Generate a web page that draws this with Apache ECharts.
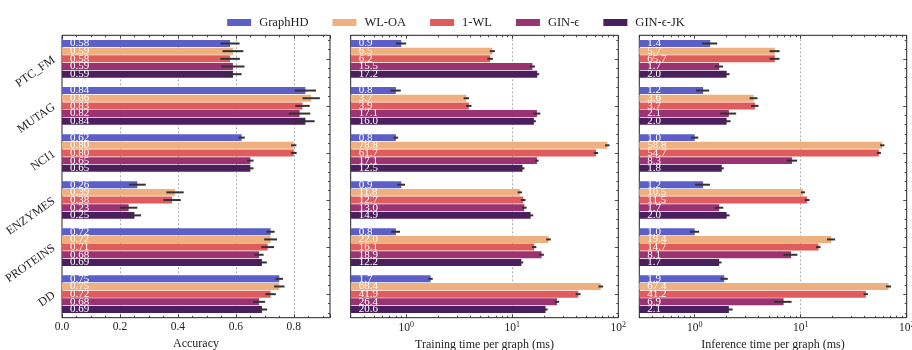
<!DOCTYPE html>
<html>
<head>
<meta charset="utf-8">
<script src="https://cdn.jsdelivr.net/npm/echarts@6/dist/echarts.min.js"></script>
<style>
  html, body { margin: 0; padding: 0; background: #fff; }
  #chart { width: 912px; height: 350px; }
</style>
</head>
<body>
<div id="chart"></div>
<script>
// datasets top -> bottom, methods in legend order
const datasets = ["PTC_FM", "MUTAG", "NCI1", "ENZYMES", "PROTEINS", "DD"];
const methods = ["GraphHD", "WL-OA", "1-WL", "GIN-ϵ", "GIN-ϵ-JK"];
const colors = ["#5b5fc7", "#efb07f", "#e05b5c", "#9b3271", "#4b1e5e"];

// accuracy (one row per method)
const accuracy = [
  [0.58, 0.84, 0.62, 0.26, 0.72, 0.75],
  [0.59, 0.86, 0.80, 0.39, 0.72, 0.75],
  [0.58, 0.83, 0.80, 0.38, 0.71, 0.72],
  [0.59, 0.82, 0.65, 0.23, 0.68, 0.68],
  [0.59, 0.84, 0.65, 0.25, 0.69, 0.69],
];
const accuracyErr = [
  [0.033, 0.037, 0.011, 0.029, 0.014, 0.013],
  [0.036, 0.030, 0.009, 0.030, 0.022, 0.018],
  [0.034, 0.025, 0.010, 0.030, 0.022, 0.018],
  [0.040, 0.037, 0.011, 0.030, 0.016, 0.021],
  [0.030, 0.032, 0.011, 0.023, 0.017, 0.018],
];

// training time per graph (ms)
const trainTime = [
  [0.9, 0.8, 0.8, 0.9, 0.8, 1.7],
  [6.5, 3.7, 78.8, 11.8, 22.0, 68.4],
  [6.2, 3.9, 61.7, 12.7, 16.1, 41.9],
  [15.5, 17.1, 17.1, 13.0, 18.9, 26.4],
  [17.2, 16.0, 12.5, 14.9, 12.2, 20.6],
];
const trainErr = [
  [0.10, 0.09, 0.04, 0.075, 0.076, 0.08],
  [0.35, 0.22, 3.8, 0.56, 1.1, 3.5],
  [0.37, 0.23, 2.8, 0.65, 0.77, 2.2],
  [0.87, 1.3, 0.63, 0.67, 1.0, 1.3],
  [0.76, 0.7, 0.55, 0.87, 0.5, 0.97],
];

// inference time per graph (ms)
const inferTime = [
  [1.4, 1.2, 1.0, 1.2, 1.0, 1.9],
  [5.7, 3.6, 58.8, 10.5, 19.4, 67.4],
  [5.7, 3.7, 54.7, 11.5, 14.7, 41.2],
  [1.7, 2.1, 8.3, 1.7, 8.1, 6.9],
  [2.0, 2.0, 1.8, 2.0, 1.7, 2.1],
];
const inferErr = [
  [0.23, 0.17, 0.08, 0.19, 0.10, 0.15],
  [0.62, 0.31, 2.8, 0.45, 1.7, 3.7],
  [0.6, 0.3, 2.4, 0.6, 0.7, 1.9],
  [0.15, 0.36, 0.95, 0.16, 1.2, 1.3],
  [0.13, 0.18, 0.08, 0.13, 0.09, 0.18],
];
// label printed in the original differs from bar length (1-WL, PTC_FM)
const inferLabelFix = { "2,0": "65.7" };

const logTicks = [1, 10, 100];

const FONT = "'Liberation Serif', 'DejaVu Serif', serif";
const INK = "#222";
const LOG_MIN = 0.3;
const lt = (v) => Math.log10(v / LOG_MIN);
const LOG_MAX = lt(100);

const chart = echarts.init(document.getElementById("chart"));

const panels = [
  { left: 62, width: 268, log: false, values: accuracy, errs: accuracyErr, name: "Accuracy", digits: 2 },
  { left: 350.7, width: 267.6, log: true, values: trainTime, errs: trainErr, name: "Training time per graph (ms)", digits: 1 },
  { left: 639.3, width: 267.4, log: true, values: inferTime, errs: inferErr, name: "Inference time per graph (ms)", digits: 1, fix: inferLabelFix },
];

const grids = [], xAxes = [], yAxes = [], series = [];
const TOP = 35.3, HEIGHT = 282.4;
const CAT_GAP = 0.2, BAR_GAP = 0.1;

// minor tick positions (log panels / category side)
const logMinor = [];
[0.1, 1, 10].forEach((d) => {
  for (let k = 2; k <= 9; k++) if (k * d > LOG_MIN) logMinor.push(lt(k * d));
});
const catMinor = [];
for (let c = -0.4; c < 5.5; c += 0.2) {
  const r = Math.round(c * 10) / 10;
  if (Math.abs(r - Math.round(r)) > 0.01) catMinor.push(r);
}

const noLine = { show: false, onZero: false };

function tickStyle(len) {
  return { show: true, inside: true, length: len, lineStyle: { color: INK, width: 0.8 } };
}

function errRender(params, api) {
  const lo = api.value(0), hi = api.value(1), cat = api.value(2), m = api.value(3);
  const band = api.size([0, 1])[1];
  const groupW = band * (1 - CAT_GAP);
  const barW = groupW / (methods.length + (methods.length - 1) * BAR_GAP);
  const off = -groupW / 2 + m * barW * (1 + BAR_GAP) + barW / 2;
  const p1 = api.coord([lo, cat]);
  const p2 = api.coord([hi, cat]);
  return {
    type: "line",
    shape: { x1: p1[0], y1: p1[1] + off, x2: p2[0], y2: p2[1] + off },
    style: { stroke: "#333", lineWidth: 2 },
  };
}

panels.forEach((pn, p) => {
  const tx = pn.log ? lt : (v) => v;
  grids.push({
    left: pn.left, top: TOP, width: pn.width, height: HEIGHT,
    outerBoundsMode: "none", containLabel: false,
    show: true, borderColor: INK, borderWidth: 1, backgroundColor: "transparent",
  });

  const split = { show: true, showMinLine: false, showMaxLine: false, lineStyle: { color: "#9a9a9a", type: [2, 2], width: 0.8 } };
  const label = { color: INK, fontFamily: FONT, fontSize: 11.5, margin: 3 };
  const nameCfg = {
    name: pn.name, nameLocation: "middle", nameGap: 18,
    nameTextStyle: { color: INK, fontFamily: FONT, fontSize: 12 },
  };
  const mainX = xAxes.length;
  if (!pn.log) {
    xAxes.push(Object.assign({
      type: "value", gridIndex: p, position: "bottom", min: 0, max: 0.925, interval: 0.2,
      axisLine: noLine, axisTick: tickStyle(3.5),
      minorTick: { show: true, splitNumber: 4, length: 2, lineStyle: { color: INK, width: 0.8 } },
      axisLabel: Object.assign({ showMaxLabel: false, formatter: (v) => v.toFixed(1) }, label),
      splitLine: split,
    }, nameCfg));
    xAxes.push({
      type: "value", gridIndex: p, position: "top", min: 0, max: 0.925, interval: 0.2,
      axisLine: noLine, axisTick: tickStyle(3.5),
      minorTick: { show: true, splitNumber: 4, length: 2, lineStyle: { color: INK, width: 0.8 } },
      axisLabel: { show: false }, splitLine: { show: false },
    });
  } else {
    const majors = logTicks.map(lt);
    xAxes.push(Object.assign({
      type: "value", gridIndex: p, position: "bottom", min: 0, max: LOG_MAX,
      axisLine: noLine,
      axisTick: Object.assign({ customValues: majors }, tickStyle(3.5)),
      axisLabel: Object.assign({
        customValues: majors,
        formatter: (v) => "{b|10}{s|" + Math.round(v + Math.log10(LOG_MIN)) + "}",
        rich: {
          b: { fontFamily: FONT, fontSize: 11.5, color: INK },
          s: { fontFamily: FONT, fontSize: 8, color: INK, verticalAlign: "top", padding: [0, 0, 6, 0] },
        },
      }, label),
      splitLine: split,
    }, nameCfg));
    xAxes.push({
      type: "value", gridIndex: p, position: "top", min: 0, max: LOG_MAX,
      axisLine: noLine, axisLabel: { show: false }, splitLine: { show: false },
      axisTick: Object.assign({ customValues: majors }, tickStyle(3.5)),
    });
    ["bottom", "top"].forEach((pos) => {
      xAxes.push({
        type: "value", gridIndex: p, position: pos, min: 0, max: LOG_MAX,
        axisLine: noLine, axisLabel: { show: false }, splitLine: { show: false },
        axisTick: Object.assign({ customValues: logMinor }, tickStyle(2)),
      });
    });
  }

  const catY = yAxes.length;
  yAxes.push({
    type: "category", gridIndex: p, data: datasets, inverse: true,
    axisLine: noLine, axisTick: { show: false },
    axisLabel: { show: p === 0, rotate: 35, margin: 8, color: INK, fontFamily: FONT, fontSize: 12 },
  });
  // tick marks on the right frame
  yAxes.push({
    type: "value", gridIndex: p, position: "right", min: -0.5, max: 5.5, inverse: true,
    axisLine: noLine, axisLabel: { show: false }, splitLine: { show: false },
    axisTick: Object.assign({ customValues: [0, 1, 2, 3, 4, 5] }, tickStyle(3.5)),
  });
  yAxes.push({
    type: "value", gridIndex: p, position: "right", min: -0.5, max: 5.5, inverse: true,
    axisLine: noLine, axisLabel: { show: false }, splitLine: { show: false },
    axisTick: Object.assign({ customValues: catMinor }, tickStyle(2)),
  });

  const errData = [];
  methods.forEach((m, mi) => {
    series.push({
      type: "bar", name: m, xAxisIndex: mainX, yAxisIndex: catY,
      data: pn.values[mi].map(tx),
      barCategoryGap: CAT_GAP * 100 + "%", barGap: BAR_GAP * 100 + "%",
      itemStyle: { color: colors[mi] },
      label: {
        show: true, position: "insideLeft", distance: 8,
        color: "#fff", fontFamily: FONT, fontSize: 11,
        formatter: (prm) => {
          const key = mi + "," + prm.dataIndex;
          if (pn.fix && pn.fix[key]) return pn.fix[key];
          return pn.values[mi][prm.dataIndex].toFixed(pn.digits);
        },
      },
    });
    pn.values[mi].forEach((v, di) => {
      const e = pn.errs[mi][di];
      errData.push([tx(v - e), tx(v + e), di, mi]);
    });
  });
  series.push({
    type: "custom", xAxisIndex: mainX, yAxisIndex: catY, z: 5, silent: true,
    renderItem: errRender, encode: { x: [0, 1], y: 2 }, data: errData,
  });
});

const option = {
  animation: false,
  backgroundColor: "#fff",
  legend: {
    data: methods, top: 11, left: "center", icon: "rect",
    itemWidth: 24, itemHeight: 7, itemGap: 24,
    textStyle: { color: INK, fontFamily: FONT, fontSize: 12.5, padding: [0, 0, 0, 3] },
  },
  grid: grids,
  xAxis: xAxes,
  yAxis: yAxes,
  series: series,
};
chart.setOption(option);
</script>
</body>
</html>
